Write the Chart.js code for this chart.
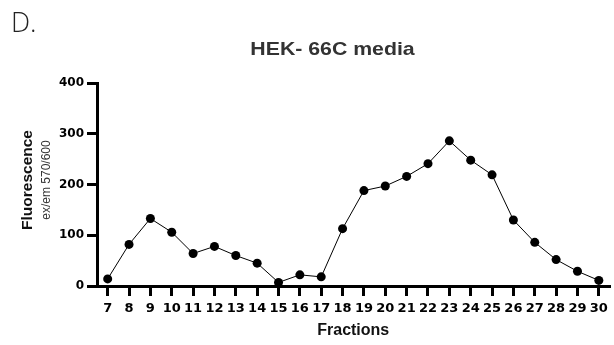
<!DOCTYPE html>
<html>
<head>
<meta charset="utf-8">
<script src="https://cdn.jsdelivr.net/npm/chart.js@4.4.1/dist/chart.umd.min.js"></script>
<style>
  html, body { margin: 0; padding: 0; background: #fff; }
  #wrap { position: relative; width: 614px; height: 345px; }
</style>
</head>
<body>
<div id="wrap"><canvas id="c" width="614" height="345"></canvas></div>
<script>
// Fractions collected and their fluorescence readings (ex/em 570/600)
const fractions = ['7','8','9','10','11','12','13','14','15','16','17','18','19','20','21','22','23','24','25','26','27','28','29','30'];
const fluorescence = [14, 82, 133, 106, 64, 78, 60, 45, 7, 22, 18, 113, 188, 197, 216, 241, 286, 248, 219, 130, 86, 52, 29, 11];
const yTicks = [0, 100, 200, 300, 400];

const FONT = '"Liberation Sans", Arial, sans-serif';
const TICK_FONT = '"DejaVu Sans", ' + FONT;

// Panel letter, chart title and the two-line y-axis title
const annotations = {
  id: 'annotations',
  afterDraw(chart) {
    const ctx = chart.ctx;
    ctx.save();
    ctx.fillStyle = '#222';
    ctx.font = '300 27px "Open Sans", ' + FONT;
    ctx.textAlign = 'left';
    ctx.textBaseline = 'alphabetic';
    ctx.fillText('D.', 11, 32);
    ctx.restore();

    // title, set slightly wide
    ctx.save();
    ctx.fillStyle = '#333';
    ctx.font = 'bold 18.5px ' + FONT;
    ctx.textAlign = 'center';
    ctx.textBaseline = 'alphabetic';
    ctx.translate(332.5, 55);
    ctx.scale(1.15, 1);
    ctx.fillText('HEK- 66C media', 0, 0);
    ctx.restore();

    ctx.save();
    ctx.textAlign = 'center';
    ctx.textBaseline = 'middle';
    ctx.fillStyle = '#111';
    ctx.font = 'bold 15.5px ' + FONT;
    ctx.translate(28, 180);
    ctx.rotate(-Math.PI / 2);
    ctx.fillText('Fluorescence', 0, 0);
    ctx.restore();

    ctx.save();
    ctx.textAlign = 'center';
    ctx.textBaseline = 'middle';
    ctx.fillStyle = '#333';
    ctx.font = '12px ' + FONT;
    ctx.translate(47, 180);
    ctx.rotate(-Math.PI / 2);
    ctx.fillText('ex/em 570/600', 0, 0);
    ctx.restore();
  }
};

new Chart(document.getElementById('c'), {
  type: 'line',
  data: {
    labels: fractions,
    datasets: [{
      data: fluorescence,
      borderColor: '#000',
      borderWidth: 1,
      backgroundColor: '#000',
      pointBackgroundColor: '#000',
      pointBorderColor: '#000',
      pointRadius: 4.5,
      pointBorderWidth: 0,
      tension: 0,
      clip: false
    }]
  },
  options: {
    responsive: false,
    animation: false,
    devicePixelRatio: 1,
    layout: { padding: { top: 83, right: 0, left: 0, bottom: 0 } },
    plugins: {
      legend: { display: false },
      tooltip: { enabled: false },
      title: { display: false }
    },
    scales: {
      x: {
        type: 'category',
        offset: true,
        border: { display: true, color: '#000', width: 3 },
        grid: {
          offset: false,
          drawOnChartArea: false,
          drawTicks: true,
          tickLength: 10,
          lineWidth: 3,
          color: '#000'
        },
        ticks: {
          color: '#000',
          font: { family: TICK_FONT, size: 13, weight: 'bold' },
          padding: 5,
          maxRotation: 0,
          autoSkip: false
        },
        title: {
          display: true,
          text: 'Fractions',
          color: '#111',
          font: { family: FONT, size: 16, weight: 'bold' },
          padding: { top: 0, bottom: 5 }
        },
        afterFit(scale) { scale.height = 59; }
      },
      y: {
        min: 0,
        max: 400,
        border: { display: true, color: '#000', width: 3 },
        grid: {
          drawOnChartArea: false,
          drawTicks: true,
          tickLength: 10,
          lineWidth: 3,
          color: '#000'
        },
        afterBuildTicks(scale) {
          scale.ticks = yTicks.map(v => ({ value: v }));
        },
        ticks: {
          color: '#000',
          font: { family: TICK_FONT, size: 12, weight: 'bold' },
          padding: 3
        },
        afterFit(scale) { scale.width = 97; }
      }
    }
  },
  plugins: [annotations]
});
</script>
</body>
</html>
